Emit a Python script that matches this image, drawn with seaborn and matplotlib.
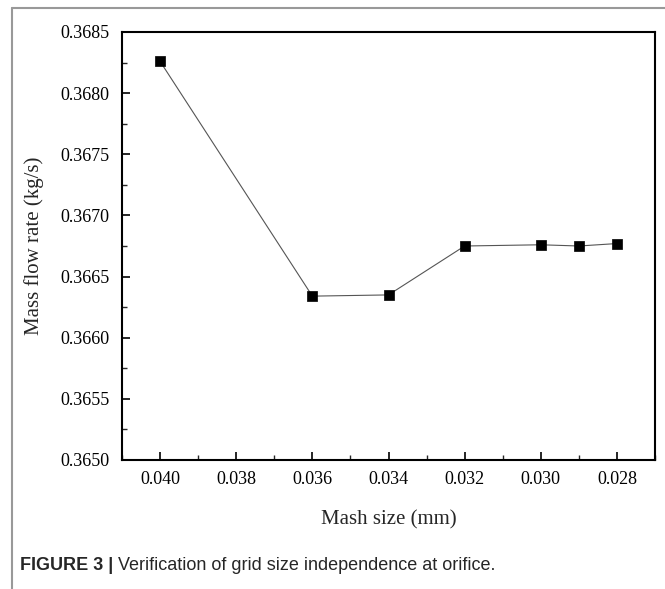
import matplotlib
matplotlib.use("Agg")
import matplotlib.pyplot as plt
from matplotlib.lines import Line2D
from matplotlib.ticker import MultipleLocator
import seaborn as sns
import pandas as pd

mesh_size = [0.040, 0.036, 0.034, 0.032, 0.030, 0.029, 0.028]
mass_flow = [0.36826, 0.36634, 0.36635, 0.36675, 0.36676, 0.36675, 0.36677]
x_ticks = [0.040, 0.038, 0.036, 0.034, 0.032, 0.030, 0.028]
y_ticks = [0.3650, 0.3655, 0.3660, 0.3665, 0.3670, 0.3675, 0.3680, 0.3685]

df = pd.DataFrame({"mesh": mesh_size, "flow": mass_flow})

sns.set_style("white")
plt.rcParams['font.family'] = ['Liberation Serif', 'DejaVu Serif']

fig = plt.figure(figsize=(6.65, 5.89), dpi=100)
ax = fig.add_axes([122/665, 1-460/589, (655-122)/665, (460-32)/589])

sns.lineplot(data=df, x="mesh", y="flow", ax=ax, color="#555555", linewidth=0.8,
             sort=False, estimator=None)
sns.scatterplot(data=df, x="mesh", y="flow", ax=ax, marker="s", color="black",
                s=50, edgecolor="black", linewidth=0.5, zorder=3)

ax.set_xlim(0.041, 0.027)
ax.set_ylim(0.3650, 0.3685)
ax.set_xticks(x_ticks)
ax.set_xticklabels([f"{v:.3f}" for v in x_ticks])
ax.set_yticks(y_ticks)
ax.set_yticklabels([f"{v:.4f}" for v in y_ticks])
ax.xaxis.set_minor_locator(MultipleLocator(0.001))
ax.yaxis.set_minor_locator(MultipleLocator(0.00025))
ax.tick_params(axis="both", which="major", direction="in", length=6, width=1.2,
               labelsize=13, pad=8, colors="black")
ax.tick_params(axis="y", which="major", pad=9)
ax.tick_params(axis="both", which="minor", direction="in", length=3.5, width=1.0)
ax.tick_params(top=False, right=False, which="both")
ax.tick_params(axis="both", which="both", bottom=True, left=True)
for sp in ax.spines.values():
    sp.set_color("black")
    sp.set_linewidth(1.5)
ax.set_xlabel("Mash size (mm)", fontsize=15, labelpad=16)
ax.set_ylabel("Mass flow rate (kg/s)", fontsize=15, labelpad=12)

# frame
fig.add_artist(Line2D([12/665, 1.0], [1-8/589, 1-8/589], color="#999999", lw=1.5,
                      transform=fig.transFigure))
fig.add_artist(Line2D([12/665, 12/665], [1-8/589, 0], color="#999999", lw=1.5,
                      transform=fig.transFigure))

# caption
t1 = fig.text(20/665, 1-566/589, "FIGURE 3 |", fontsize=13, fontweight="bold",
              family=["Liberation Sans", "DejaVu Sans"], va="center", ha="left")
fig.canvas.draw()
r = fig.canvas.get_renderer()
bb = t1.get_window_extent(renderer=r)
x2 = (bb.x1 + 5) / fig.bbox.width
fig.text(x2, 1-566/589, "Verification of grid size independence at orifice.",
         fontsize=13, family=["Liberation Sans", "DejaVu Sans"], va="center", ha="left")

fig.savefig("out.png", dpi=100)
